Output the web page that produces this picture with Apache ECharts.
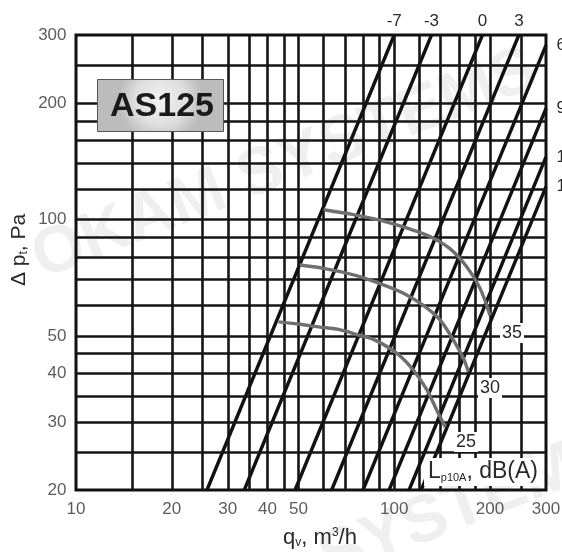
<!DOCTYPE html>
<html><head><meta charset="utf-8">
<script src="https://cdn.jsdelivr.net/npm/echarts@6/dist/echarts.min.js"></script>
<style>html,body{margin:0;padding:0;background:#fff}#c{width:562px;height:552px}</style>
</head><body><div id="c"></div>
<script>
// grid values
const xGridValues = [15,20,25,30,35,40,45,50,60,70,80,90,100,120,140,160,180,200,250];
const yGridValues = [25,30,35,40,45,50,60,70,80,90,100,120,140,160,180,200,250];
const xTickLabels = [10,20,30,40,50,100,200,300];
const yTickLabels = [20,30,40,50,100,200,300];

// system (diagonal) lines: start / end points
const sysLabels = ['-7','-3','0','3','6','9','12','15'];
const sysStartQ = [25.8,33.8,48.8,63.6,79.8,96.4,111.4,121.6];
const sysStartP = [20,20,20,20,20,20,20,20];
const sysEndQ   = [100,131,189.4,246.5,300,300,300,300];
const sysEndP   = [300,300,300,300,282.5,193.8,145.2,121.6];

// fan curves
const curveHighQ = [60,74.5,90,110,130,150,169,186,200];
const curveHighP = [106,103,99.7,95,90.3,84,75.5,66.5,56.5];
const curveMidQ  = [50.5,60,74.5,90,107,123.5,139.5,153.5,165,171];
const curveMidP  = [76.3,74.8,72,68.4,64.5,60,55,48.8,43.8,40.4];
const curveLowQ  = [43.3,50,57.8,66.8,77.2,87,102,115,126.7,136,144.7];
const curveLowP  = [54.4,53.7,52.8,52,50.3,48.8,45.1,40.8,36.3,32.2,29.1];
const curveLevels = ['35','30','25'];

const FONT = "'Liberation Sans', Arial, sans-serif";
const zip = (a,b) => a.map((v,i)=>[v,b[i]]);

const chart = echarts.init(document.getElementById('c'), null, {renderer:'canvas'});

const series = [];
// grid lines
series.push({
  type:'line', data:[[10,20]], showSymbol:false, silent:true, z:1,
  lineStyle:{width:0},
  markLine:{
    silent:true, symbol:['none','none'], animation:false,
    label:{show:false}, emphasis:{disabled:true},
    lineStyle:{color:'#151515', width:2.6, type:'solid'},
    data:[...xGridValues.map(v=>({xAxis:v})), ...yGridValues.map(v=>({yAxis:v}))]
  }
});
// diagonal lines
sysLabels.forEach((lab,i)=>{
  const onTop = sysEndP[i] >= 300;
  series.push({
    type:'line', silent:true, z:3,
    symbol:'circle', symbolSize:1, showSymbol:true,
    itemStyle:{color:'#111'},
    lineStyle:{color:'#111', width:3.4},
    data:[[sysStartQ[i], sysStartP[i]],
      {value:[sysEndQ[i], sysEndP[i]],
       label:{show:true, formatter:lab, position: onTop?'top':'right', distance: onTop?5:10,
              fontSize:17, color:'#2a2a2a', fontFamily:FONT}}]
  });
});
// fan curves
[[curveHighQ,curveHighP],[curveMidQ,curveMidP],[curveLowQ,curveLowP]].forEach(([q,p])=>{
  series.push({
    type:'line', smooth:0.35, symbol:'none', silent:true, z:5,
    lineStyle:{color:'#6f6f6f', width:3.4},
    data: zip(q,p)
  });
});
// tick labels
series.push({
  type:'scatter', silent:true, clip:false, z:6, symbolSize:1,
  itemStyle:{color:'rgba(0,0,0,0)'},
  label:{show:true, position:'bottom', distance:10, fontSize:17, color:'#333', fontFamily:FONT,
         formatter:p=>String(p.value[0])},
  data: xTickLabels.map(v=>[v,20])
});
series.push({
  type:'scatter', silent:true, clip:false, z:6, symbolSize:1,
  itemStyle:{color:'rgba(0,0,0,0)'},
  label:{show:true, position:'left', distance:9, fontSize:17, color:'#333', fontFamily:FONT,
         formatter:p=>String(p.value[1])},
  data: yTickLabels.map(v=>[10,v])
});

const txt = (x,y,text,opts,z) => ({
  type:'text', x, y, z: z||50, silent:true,
  style:Object.assign({text, fontSize:17, fontFamily:FONT, fill:'#2a2a2a', align:'center', verticalAlign:'middle'}, opts||{})
});

const graphic = [
  // watermark
  {type:'text', x:285, y:165, rotation:0.37, z:0, silent:true,
   style:{text:'OKAM SYSTEMS', fontSize:66, fontWeight:'bold', fontFamily:FONT, fill:'#efefef', align:'center', verticalAlign:'middle'}},
  {type:'text', x:470, y:505, rotation:0.37, z:0, silent:true,
   style:{text:'SYSTEMS', fontSize:66, fontWeight:'bold', fontFamily:FONT, fill:'#efefef', align:'center', verticalAlign:'middle'}},
  // AS125 box
  {type:'rect', z:60, silent:true, shape:{x:97.5, y:79.5, width:126, height:52},
   style:{stroke:'#555', lineWidth:1,
     fill:new echarts.graphic.RadialGradient(0.5,0.4,0.8,[{offset:0,color:'#f2f2f2'},{offset:0.6,color:'#dedede'},{offset:1,color:'#bcbcbc'}])}},
  txt(162, 107, 'AS125', {fontSize:34, fontWeight:'bold', fill:'#1a1a1a'}, 61),
  // axis names
  {type:'text', x:19, y:250, rotation:Math.PI/2, z:50, silent:true,
   style:{text:'Δ p{t|t}, Pa', fontSize:21, fontFamily:FONT, fill:'#2a2a2a', align:'center', verticalAlign:'middle',
     rich:{t:{fontSize:12, verticalAlign:'bottom', fontFamily:FONT, fill:'#2a2a2a'}}}},
  {type:'text', x:320, y:538, z:50, silent:true,
   style:{text:'q{v|v}, m{s|3}/h', fontSize:22, fontFamily:FONT, fill:'#2a2a2a', align:'center', verticalAlign:'middle',
     rich:{v:{fontSize:12, verticalAlign:'bottom', fontFamily:FONT, fill:'#2a2a2a'}, s:{fontSize:12, verticalAlign:'top', fontFamily:FONT, fill:'#2a2a2a'}}}},
  // dB labels
  txt(512, 333, curveLevels[0], {fontSize:18, backgroundColor:'#fff', padding:[1,2,1,2]}),
  txt(490, 388, curveLevels[1], {fontSize:18, backgroundColor:'#fff', padding:[1,2,1,2]}),
  txt(466, 442, curveLevels[2], {fontSize:18, backgroundColor:'#fff', padding:[1,2,1,2]}),
  // Lp label
  {type:'rect', z:49, silent:true, shape:{x:424, y:458, width:120, height:28}, style:{fill:'#fff'}},
  {type:'text', x:483, y:472, z:50, silent:true,
   style:{text:'L{s|p10A}, dB(A)', fontSize:23, fontFamily:FONT, fill:'#2a2a2a', align:'center', verticalAlign:'middle',
     rich:{s:{fontSize:11, verticalAlign:'bottom', fontFamily:FONT, fill:'#2a2a2a'}}}}
];

chart.setOption({
  animation:false,
  backgroundColor:'#fff',
  grid:{left:76, top:35, width:470, height:455, show:true, borderColor:'#111', borderWidth:3, backgroundColor:'transparent', z:2},
  xAxis:{type:'log', logBase:10, min:10, max:300,
    axisLine:{show:false}, axisTick:{show:false}, axisLabel:{show:false}, splitLine:{show:false}, minorSplitLine:{show:false}},
  yAxis:{type:'log', logBase:10, min:20, max:300,
    axisLine:{show:false}, axisTick:{show:false}, axisLabel:{show:false}, splitLine:{show:false}, minorSplitLine:{show:false}},
  series,
  graphic
});
</script></body></html>
